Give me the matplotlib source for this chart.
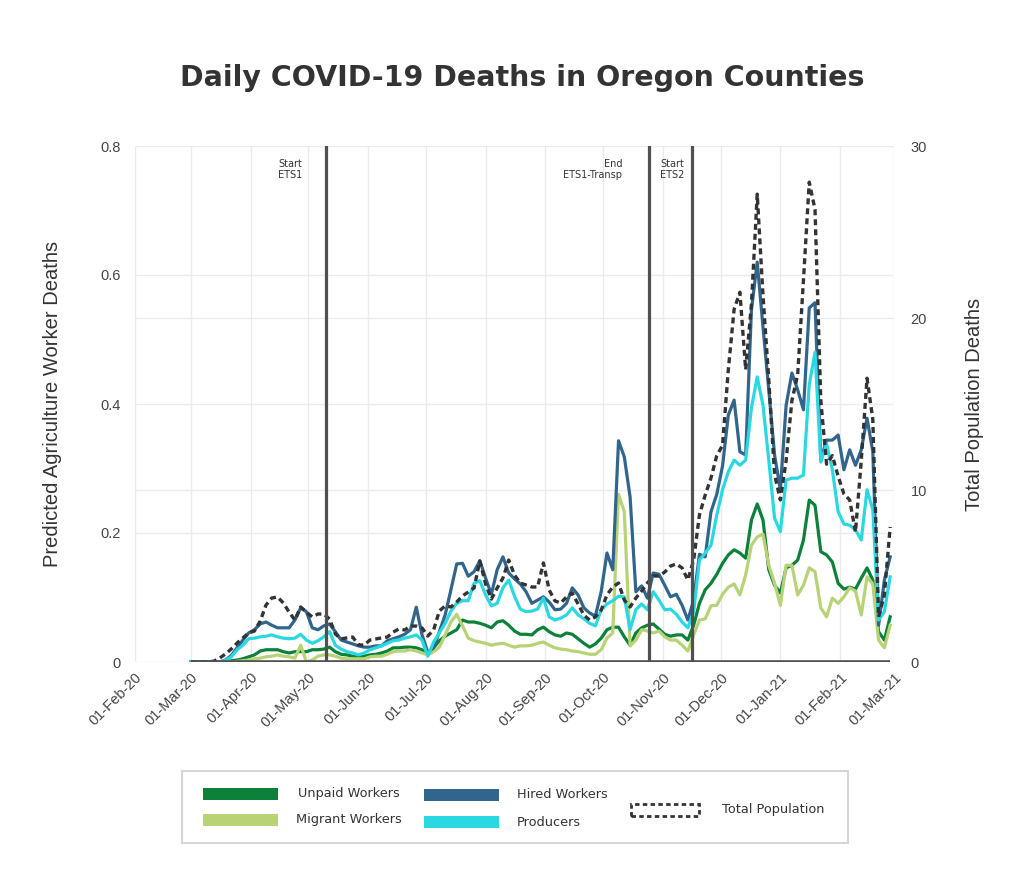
import matplotlib
matplotlib.use('Agg')
import matplotlib.pyplot as plt
import matplotlib.dates as mdates
from matplotlib.patches import Rectangle
import pandas as pd

# Data (every 3rd day from 01-Mar-20)
dates = pd.date_range('2020-03-01', periods=122, freq='3D')

unpaid = [0, 0, 0, 0, 0, 0, 0, 0.002, 0.003, 0.005,
          0.008, 0.011, 0.017, 0.019, 0.019, 0.019, 0.016, 0.014, 0.016, 0.016,
          0.016, 0.019, 0.019, 0.02, 0.023, 0.016, 0.012, 0.011, 0.009, 0.008,
          0.009, 0.011, 0.012, 0.014, 0.017, 0.022, 0.022, 0.023, 0.023, 0.022,
          0.019, 0.012, 0.022, 0.033, 0.04, 0.045, 0.05, 0.065, 0.062, 0.062,
          0.06, 0.057, 0.053, 0.062, 0.064, 0.057, 0.048, 0.043, 0.043, 0.042,
          0.05, 0.054, 0.047, 0.042, 0.04, 0.045, 0.043, 0.036, 0.029, 0.023,
          0.028, 0.037, 0.05, 0.054, 0.054, 0.039, 0.026, 0.045, 0.053, 0.057,
          0.059, 0.051, 0.043, 0.04, 0.042, 0.042, 0.034, 0.057, 0.091, 0.112,
          0.122, 0.136, 0.153, 0.166, 0.174, 0.169, 0.161, 0.22, 0.245, 0.22,
          0.143, 0.119, 0.107, 0.146, 0.15, 0.158, 0.189, 0.251, 0.243, 0.171,
          0.166, 0.155, 0.122, 0.113, 0.116, 0.113, 0.13, 0.146, 0.127, 0.047,
          0.034, 0.07]

migrant = [0, 0, 0, 0, 0, 0, 0, 0, 0.001, 0.002,
           0.003, 0.005, 0.006, 0.008, 0.009, 0.011, 0.009, 0.008, 0.006, 0.026,
           0.0, 0.003, 0.009, 0.011, 0.011, 0.009, 0.006, 0.005, 0.005, 0.005,
           0.005, 0.008, 0.009, 0.009, 0.012, 0.016, 0.017, 0.017, 0.019, 0.017,
           0.014, 0.011, 0.016, 0.023, 0.042, 0.062, 0.074, 0.056, 0.037, 0.033,
           0.031, 0.029, 0.026, 0.028, 0.029, 0.026, 0.023, 0.025, 0.025, 0.026,
           0.029, 0.031, 0.026, 0.022, 0.02, 0.019, 0.017, 0.016, 0.014, 0.012,
           0.012, 0.019, 0.037, 0.045, 0.26, 0.233, 0.025, 0.034, 0.05, 0.048,
           0.045, 0.048, 0.039, 0.034, 0.034, 0.026, 0.017, 0.042, 0.065, 0.067,
           0.087, 0.088, 0.105, 0.116, 0.121, 0.104, 0.135, 0.181, 0.194, 0.198,
           0.15, 0.122, 0.088, 0.15, 0.15, 0.104, 0.119, 0.146, 0.14, 0.084,
           0.07, 0.099, 0.091, 0.101, 0.115, 0.11, 0.073, 0.132, 0.121, 0.034,
           0.022, 0.057]

hired = [0, 0, 0, 0, 0, 0, 0.003, 0.01, 0.022, 0.034,
         0.045, 0.05, 0.059, 0.062, 0.057, 0.053, 0.053, 0.053, 0.065, 0.084,
         0.078, 0.053, 0.05, 0.056, 0.059, 0.047, 0.034, 0.031, 0.028, 0.025,
         0.023, 0.023, 0.025, 0.025, 0.033, 0.036, 0.039, 0.043, 0.05, 0.085,
         0.042, 0.015, 0.022, 0.047, 0.073, 0.112, 0.152, 0.153, 0.133, 0.14,
         0.157, 0.13, 0.105, 0.143, 0.163, 0.138, 0.129, 0.121, 0.109, 0.091,
         0.096, 0.101, 0.093, 0.081, 0.082, 0.091, 0.115, 0.104, 0.084, 0.076,
         0.071, 0.109, 0.169, 0.143, 0.343, 0.318, 0.256, 0.109, 0.118, 0.099,
         0.138, 0.136, 0.119, 0.101, 0.105, 0.088, 0.065, 0.096, 0.167, 0.163,
         0.233, 0.26, 0.304, 0.383, 0.406, 0.326, 0.321, 0.546, 0.62, 0.519,
         0.422, 0.321, 0.267, 0.398, 0.448, 0.422, 0.391, 0.549, 0.557, 0.313,
         0.344, 0.344, 0.352, 0.298, 0.329, 0.305, 0.329, 0.378, 0.326, 0.057,
         0.127, 0.163]

producers = [0, 0, 0, 0, 0, 0, 0.002, 0.008, 0.019, 0.026,
             0.036, 0.037, 0.039, 0.04, 0.042, 0.039, 0.037, 0.036, 0.037, 0.043,
             0.034, 0.029, 0.033, 0.039, 0.047, 0.026, 0.02, 0.016, 0.014, 0.011,
             0.014, 0.019, 0.022, 0.025, 0.029, 0.033, 0.034, 0.037, 0.039, 0.042,
             0.034, 0.009, 0.031, 0.045, 0.06, 0.079, 0.091, 0.095, 0.095, 0.122,
             0.126, 0.104, 0.087, 0.091, 0.115, 0.127, 0.102, 0.082, 0.078, 0.079,
             0.082, 0.099, 0.07, 0.065, 0.068, 0.073, 0.084, 0.073, 0.067, 0.06,
             0.056, 0.081, 0.09, 0.095, 0.102, 0.101, 0.05, 0.081, 0.09, 0.081,
             0.109, 0.096, 0.081, 0.082, 0.074, 0.062, 0.053, 0.078, 0.158, 0.169,
             0.181, 0.228, 0.267, 0.295, 0.313, 0.305, 0.313, 0.394, 0.442, 0.398,
             0.313, 0.223, 0.202, 0.282, 0.285, 0.285, 0.29, 0.43, 0.48, 0.31,
             0.338, 0.298, 0.233, 0.214, 0.212, 0.205, 0.189, 0.267, 0.236, 0.065,
             0.078, 0.132]

total = [0, 0, 0, 0, 0.05, 0.23, 0.47, 0.76, 1.1, 1.4,
         1.69, 1.8, 2.38, 3.31, 3.72, 3.78, 3.43, 2.9, 2.44, 3.2,
         2.9, 2.62, 2.79, 2.79, 2.5, 1.63, 1.34, 1.4, 1.45, 0.99,
         0.99, 1.28, 1.34, 1.4, 1.45, 1.74, 1.92, 1.86, 2.09, 2.09,
         1.98, 1.51, 1.86, 2.97, 3.26, 3.2, 3.49, 3.84, 4.07, 4.3,
         5.87, 4.53, 3.66, 4.3, 4.88, 5.93, 5.06, 4.59, 4.48, 4.36,
         4.36, 5.76, 4.19, 3.55, 3.43, 3.78, 4.01, 3.37, 2.73, 2.44,
         2.62, 3.02, 3.9, 4.36, 4.59, 3.6, 3.2, 3.72, 4.13, 4.59,
         5.0, 5.0, 5.23, 5.58, 5.7, 5.47, 4.77, 5.93, 8.55, 9.71,
         10.7, 12.0, 12.6, 17.0, 20.5, 21.5, 17.0, 20.8, 27.2, 21.3,
         16.4, 10.9, 9.42, 11.7, 15.2, 16.7, 22.2, 27.9, 26.3, 15.2,
         11.5, 12.0, 10.8, 9.77, 9.42, 7.56, 11.7, 16.5, 14.1, 2.62,
         3.9, 7.85]

policy_dates = pd.to_datetime(['2020-05-10', '2020-10-25', '2020-11-16'])
policy_labels = ['Start\nETS1', 'End\nETS1-Transp', 'Start\nETS2']
policy_text_dates = pd.to_datetime(['2020-04-28', '2020-10-11', '2020-11-12'])

series = [('Unpaid Workers', unpaid, '#0c813a'),
          ('Migrant Workers', migrant, '#b8d276'),
          ('Hired Workers', hired, '#31658c'),
          ('Producers', producers, '#2ad8e2')]

W, H = 1024, 883
fig = plt.figure(figsize=(W / 100, H / 100), dpi=100)
ax = fig.add_axes([135 / W, 1 - 662 / H, (894 - 135) / W, (662 - 146) / H])
ax2 = ax.twinx()

grid_c = '#ebebeb'
for name, vals, col in series:
    ax.plot(dates, vals, color=col, lw=2.3, zorder=3, solid_joinstyle='round')

ax2.plot(dates, total, color='#333333', lw=2.4, linestyle=(0, (1.8, 1.2)))
for d in policy_dates:
    ax2.axvline(d, color='#505050', lw=2.3)
ax2.hlines(0, dates[0], dates[-1], color='#505050', lw=2.6)
for d, lab in zip(policy_text_dates, policy_labels):
    ax2.text(d, 0.975, lab, transform=ax2.get_xaxis_transform(), ha='right',
             va='top', fontsize=7, color='#333333', linespacing=1.1)

ax.set_xlim(pd.Timestamp('2020-02-01'), pd.Timestamp('2021-03-01'))
ax.set_ylim(0, 0.8)
ax2.set_ylim(0, 30)
ax.set_yticks([0, 0.2, 0.4, 0.6, 0.8])
ax.set_yticklabels(['0', '0.2', '0.4', '0.6', '0.8'])
ax2.set_yticks([0, 10, 20, 30])

ax.xaxis.set_major_locator(mdates.MonthLocator())
ax.xaxis.set_major_formatter(mdates.DateFormatter('%d-%b-%y'))
ax.grid(True, color=grid_c, lw=1, zorder=0)
# right-axis gridlines drawn on the main axes so they stay behind the series
for v in [10, 20]:
    ax.axhline(v * 0.8 / 30, color=grid_c, lw=1, zorder=0)

for a in (ax, ax2):
    for s in a.spines.values():
        s.set_visible(False)
    a.tick_params(length=0)

ax.tick_params(axis='y', pad=10)
ax2.tick_params(axis='y', pad=12)
ax.tick_params(axis='x', pad=6)
for t in ax.get_yticklabels() + ax2.get_yticklabels():
    t.set_fontfamily('Liberation Sans')
    t.set_fontsize(10.5)
    t.set_color('#444444')
for t in ax.get_xticklabels():
    t.set_fontfamily('Liberation Sans')
    t.set_fontsize(10.5)
    t.set_color('#444444')
    t.set_rotation(45)
    t.set_ha('right')
    t.set_rotation_mode('anchor')

ax.set_ylabel('Predicted Agriculture Worker Deaths', fontfamily='Liberation Sans',
              fontsize=14.5, color='#333333')
ax.yaxis.set_label_coords(-0.096, 0.5)
ax2.set_ylabel('Total Population Deaths', fontfamily='Liberation Sans',
               fontsize=14.5, color='#333333', rotation=90)
ax2.yaxis.set_label_coords(1.094, 0.5)

fig.text(522 / W, 1 - 78 / H, 'Daily COVID-19 Deaths in Oregon Counties',
         ha='center', va='center', fontsize=20.5, fontweight='bold', color='#333333')


# Legend box drawn in figure pixels
def fx(x):
    return x / W


def fy(y):
    return 1 - y / H


fig.patches.append(Rectangle((fx(182), fy(843)), fx(848) - fx(182), fy(771) - fy(843),
                             transform=fig.transFigure, fill=False, ec='#d6d6d6', lw=1.5))
leg_items = [(203, 794, 298, series[0]), (203, 820, 296, series[1]),
             (424, 795, 517, series[2]), (424, 822, 517, series[3])]
for px, py, tx, (name, vals, col) in leg_items:
    fig.patches.append(Rectangle((fx(px), fy(py + 6)), fx(75), 12 / H,
                                 transform=fig.transFigure, fc=col, ec='none'))
    fig.text(fx(tx), fy(py), name, ha='left', va='center', fontsize=9.3, color='#333333')
fig.patches.append(Rectangle((fx(631), fy(816)), fx(68), 12 / H, transform=fig.transFigure,
                             fill=False, ec='#333333', lw=2, linestyle=(0, (1.6, 1.2))))
fig.text(fx(722), fy(810), 'Total Population', ha='left', va='center', fontsize=9.3,
         color='#333333')

fig.savefig('out.png', dpi=100, facecolor='white')
